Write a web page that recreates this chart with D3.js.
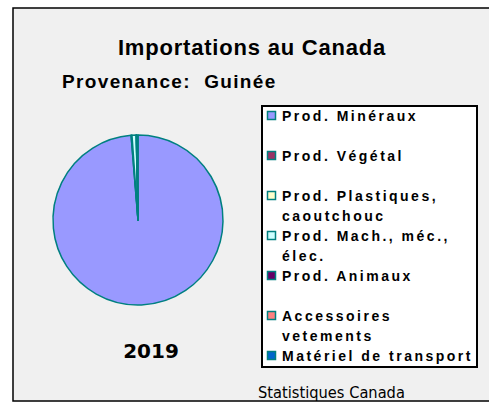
<!DOCTYPE html>
<html>
<head>
<meta charset="utf-8">
<script src="https://cdn.jsdelivr.net/npm/d3@7"></script>
<style>
  body { margin: 0; background: #fff; }
  svg { display: block; }
</style>
</head>
<body>
<svg id="chart" width="489" height="404"></svg>
<script>
// share of imports by product group, 2019 (%)
var categories = ['Prod. Minéraux', 'Prod. Végétal', 'Prod. Plastiques, caoutchouc',
  'Prod. Mach., méc., élec.', 'Prod. Animaux', 'Accessoires vetements', 'Matériel de transport'];
var legendLines = [['Prod. Minéraux'], ['Prod. Végétal'], ['Prod. Plastiques,', 'caoutchouc'],
  ['Prod. Mach., méc.,', 'élec.'], ['Prod. Animaux'], ['Accessoires', 'vetements'], ['Matériel de transport']];
var values = [98.7, 0.15, 0.02, 0.8, 0.02, 0.01, 0.3];
var colors = ['#9999ff', '#993366', '#ffffcc', '#ccffff', '#660066', '#ff8080', '#0066cc'];
var year = '2019';

var svg = d3.select('#chart');

// chart area frame
svg.append('rect').attr('x', 13).attr('y', 8).attr('width', 490).attr('height', 393)
  .attr('fill', '#f0f0f0').attr('stroke', '#000').attr('stroke-width', 1.5);

svg.append('text').attr('x', 252).attr('y', 55).attr('text-anchor', 'middle')
  .attr('font-family', 'Liberation Sans, Arial, sans-serif').attr('font-weight', 'bold')
  .attr('font-size', 22).attr('letter-spacing', 0.8).text('Importations au Canada');
svg.append('text').attr('x', 62).attr('y', 88)
  .attr('font-family', 'Liberation Sans, Arial, sans-serif').attr('font-weight', 'bold')
  .attr('font-size', 19).attr('letter-spacing', 1.35).style('white-space', 'pre')
  .text('Provenance:  Guinée');

// pie
var pie = d3.pie().sort(null).value(function(d) { return d; });
var arc = d3.arc().innerRadius(0).outerRadius(85);
var g = svg.append('g').attr('transform', 'translate(138,220)');
g.selectAll('path').data(pie(values)).enter().append('path')
  .attr('d', arc)
  .attr('fill', function(d, i) { return colors[i]; })
  .attr('stroke', '#008080').attr('stroke-width', 1.5).attr('stroke-linejoin', 'round');

svg.append('text').attr('x', 151).attr('y', 358).attr('text-anchor', 'middle')
  .attr('font-family', 'DejaVu Sans, Verdana, sans-serif').attr('font-weight', 'bold')
  .attr('font-size', 20).text(year);

// legend
var lg = svg.append('g');
lg.append('rect').attr('x', 262).attr('y', 106).attr('width', 215).attr('height', 261)
  .attr('fill', '#fff').attr('stroke', '#000').attr('stroke-width', 2);
var items = lg.selectAll('g.item').data(categories).enter().append('g')
  .attr('class', 'item')
  .attr('transform', function(d, i) { return 'translate(267,' + (116 + 40 * i) + ')'; });
items.append('rect').attr('x', 0.5).attr('y', -4.5).attr('width', 8).attr('height', 8)
  .attr('fill', function(d, i) { return colors[i]; })
  .attr('stroke', '#008080').attr('stroke-width', 1.5);
items.each(function(d, i) {
  var t = d3.select(this).append('text')
    .attr('font-family', 'Liberation Sans, Arial, sans-serif').attr('font-weight', 'bold')
    .attr('font-size', 14).attr('letter-spacing', 2.5);
  legendLines[i].forEach(function(line, j) {
    t.append('tspan').attr('x', 15).attr('y', 5 + 20 * j).text(line);
  });
});

svg.append('text').attr('x', 258).attr('y', 398)
  .attr('font-family', 'DejaVu Sans Condensed, DejaVu Sans, sans-serif')
  .attr('font-size', 16.3).text('Statistiques Canada');
</script>
</body>
</html>
